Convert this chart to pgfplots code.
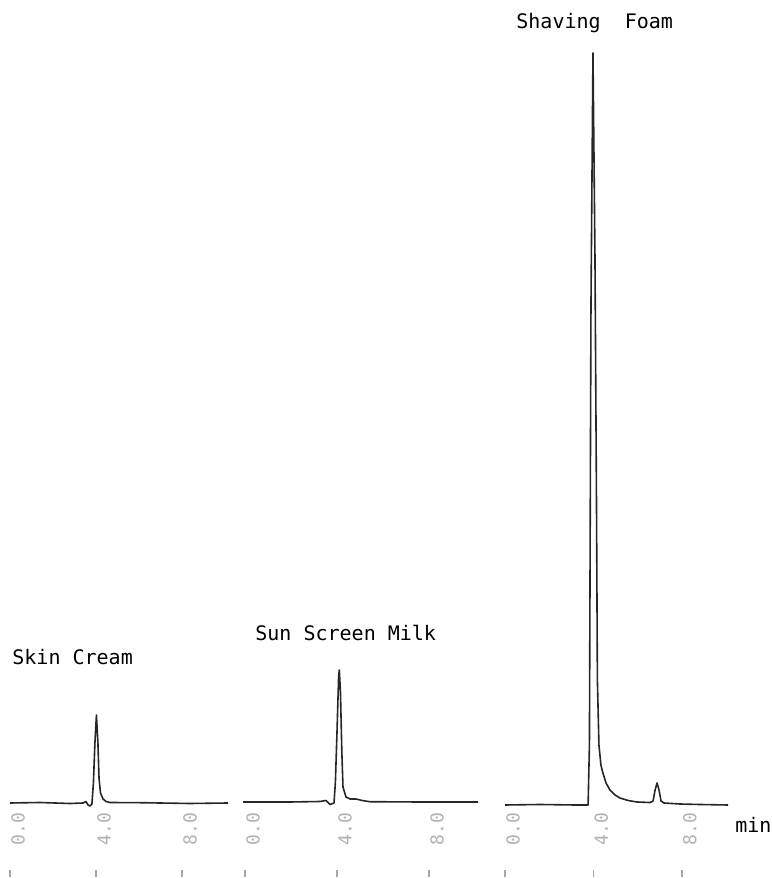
\documentclass[border=0pt]{standalone}
\usepackage{pgfplots}
\pgfplotsset{compat=1.18}
\usepackage{fontspec}
\setmainfont{DejaVu Sans Mono}
\begin{document}
\begin{tikzpicture}[x=0.5pt,y=0.5pt]
\useasboundingbox (0,0) rectangle (771,878);
\pgfplotsset{
  chrom/.style={
    scale only axis, anchor=south west, hide y axis,
    axis line style={draw=none},
    xtick={0,4,8}, xticklabels={0.0,4.0,8.0},
    xtick pos=bottom, tick align=inside, major tick length=3.5pt,
    tick style={draw=gray!70, line width=0.9pt},
    xticklabel style={yshift=24pt, xshift=4pt, rotate=90, anchor=center,
      text=gray!60, font=\fontsize{9pt}{9pt}\selectfont},
    clip=false,
  },
  trace/.style={black!85, line width=0.8pt, line join=round},
}
% Skin Cream
\begin{axis}[chrom, at={(5pt,0.5pt)}, width=109pt, height=82pt,
  xmin=0, xmax=10.14, ymin=-74, ymax=90]
\addplot[trace] coordinates {
(0,0) (1.4,0.5) (2.79,-0.5) (3.40,0) (3.53,1.5) (3.63,-2) (3.72,-3) (3.81,-1)
(3.88,20) (3.95,60) (4.02,88) (4.09,60) (4.14,25) (4.21,10) (4.33,4) (4.47,1.5)
(4.65,0.5) (6.05,0.3) (6.98,0) (8.37,-0.5) (10.14,0)};
\end{axis}
% Sun Screen Milk
\begin{axis}[chrom, at={(121.5pt,0.5pt)}, width=117.5pt, height=105pt,
  xmin=-0.087, xmax=10.13, ymin=-75, ymax=135]
\addplot[trace] coordinates {
(-0.087,0) (1.96,0) (3.26,0.5) (3.52,1.5) (3.70,-2.5) (3.87,-1) (3.93,20)
(4.0,70) (4.07,125) (4.10,132) (4.15,110) (4.21,50) (4.26,15) (4.39,5) (4.57,3)
(4.83,3) (5.09,1.5) (5.43,0.3) (7.6,0) (10.13,0)};
\end{axis}
% Shaving Foam
\begin{axis}[chrom, at={(252.5pt,0.5pt)}, width=111.5pt, height=413.5pt,
  xmin=0, xmax=10.09, ymin=-72, ymax=755]
\addplot[trace] coordinates {
(0,0) (1.58,0.5) (3.17,0) (3.76,0) (3.82,60) (3.89,500) (3.98,752) (4.07,550)
(4.14,300) (4.18,125) (4.25,60) (4.34,40) (4.43,32) (4.57,22) (4.75,15) (4.98,10)
(5.20,7) (5.57,4.5) (5.97,3) (6.56,2.5) (6.70,4) (6.79,15) (6.88,22) (6.97,15)
(7.06,4) (7.19,2) (7.92,1) (8.82,0.5) (10.09,0)};
\end{axis}
\begin{scope}[every node/.style={inner sep=0pt, anchor=west, font=\fontsize{10pt}{12pt}\selectfont}]
\node at (12,221) {Skin Cream};
\node at (255,245) {Sun Screen Milk};
\node at (516,855) {Shaving~~Foam};
\node at (735,53) {min};
\end{scope}
\end{tikzpicture}
\end{document}
